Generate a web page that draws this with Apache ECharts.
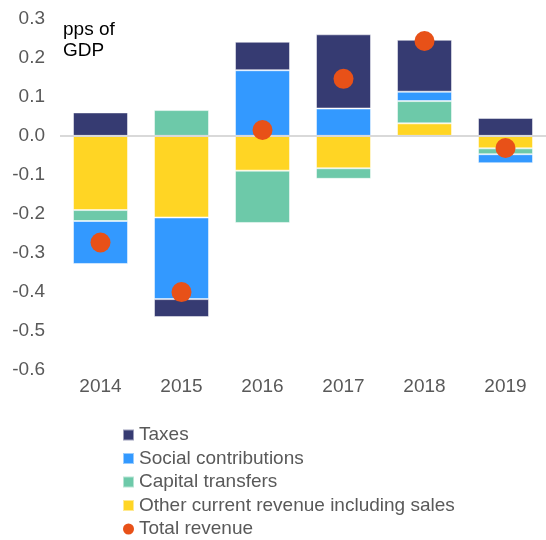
<!DOCTYPE html>
<html>
<head>
<meta charset="utf-8">
<script src="https://cdn.jsdelivr.net/npm/echarts@6/dist/echarts.min.js"></script>
<style>
  html, body { margin: 0; padding: 0; background: #fff; }
  #chart { width: 546px; height: 540px; }
</style>
</head>
<body>
<div id="chart"></div>
<script>
// values, pps of GDP
var years = ['2014', '2015', '2016', '2017', '2018', '2019'];
var taxes = [0.06, -0.046, 0.073, 0.19, 0.133, 0.046];
var socialContrib = [-0.11, -0.209, 0.168, 0.07, 0.024, -0.023];
var capitalTransfers = [-0.028, 0.066, -0.134, -0.027, 0.057, -0.015];
var otherRevenue = [-0.19, -0.209, -0.089, -0.083, 0.032, -0.032];
var totalRevenue = [-0.273, -0.40, 0.015, 0.146, 0.243, -0.031];

var font = 'Liberation Sans, Arial, sans-serif';
var grey = '#595959';

function barSeries(name, data, color) {
  return {
    name: name,
    type: 'bar',
    stack: 'rev',
    barWidth: 55,
    data: data,
    itemStyle: { color: color, borderColor: 'rgba(255,255,255,0.5)', borderWidth: 1 }
  };
}

var chart = echarts.init(document.getElementById('chart'));
chart.setOption({
  animation: false,
  textStyle: { fontFamily: font },
  grid: { left: 60, right: -5, top: 18.7, height: 351.5, containLabel: false },
  graphic: [{
    type: 'text', left: 63, top: 19,
    style: { text: 'pps of\nGDP', font: '19px ' + font, fill: '#000', lineHeight: 21 }
  }],
  legend: {
    orient: 'vertical', left: 122, top: 425, height: 200, padding: 0,
    itemWidth: 11, itemHeight: 11, itemGap: 3.5,
    data: [
      { name: 'Taxes', icon: 'rect' },
      { name: 'Social contributions', icon: 'rect' },
      { name: 'Capital transfers', icon: 'rect' },
      { name: 'Other current revenue including sales', icon: 'rect' },
      { name: 'Total revenue', icon: 'circle', itemStyle: { borderWidth: 0 } }
    ],
    textStyle: { fontSize: 19, color: grey, lineHeight: 20 }
  },
  xAxis: {
    type: 'category',
    data: years,
    axisLine: { show: false },
    axisTick: { show: false },
    axisLabel: { fontSize: 19, color: grey, margin: 7 }
  },
  yAxis: {
    type: 'value', min: -0.6, max: 0.3, interval: 0.1,
    splitLine: { show: false },
    axisLine: { show: false },
    axisLabel: {
      fontSize: 19, color: grey, margin: 15,
      formatter: function (v) { return v.toFixed(1); }
    }
  },
  series: [
    barSeries('Other current revenue including sales', otherRevenue, '#FFD524'),
    barSeries('Capital transfers', capitalTransfers, '#6DC9A9'),
    barSeries('Social contributions', socialContrib, '#3399FF'),
    barSeries('Taxes', taxes, '#363B72'),
    {
      name: 'Total revenue',
      type: 'scatter',
      data: totalRevenue,
      symbolSize: 20,
      itemStyle: { color: '#E85118', opacity: 1 },
      z: 5,
      markLine: {
        silent: true, symbol: 'none', label: { show: false },
        lineStyle: { color: '#D9D9D9', width: 2, type: 'solid' },
        data: [{ yAxis: 0 }]
      }
    }
  ]
});
</script>
</body>
</html>
